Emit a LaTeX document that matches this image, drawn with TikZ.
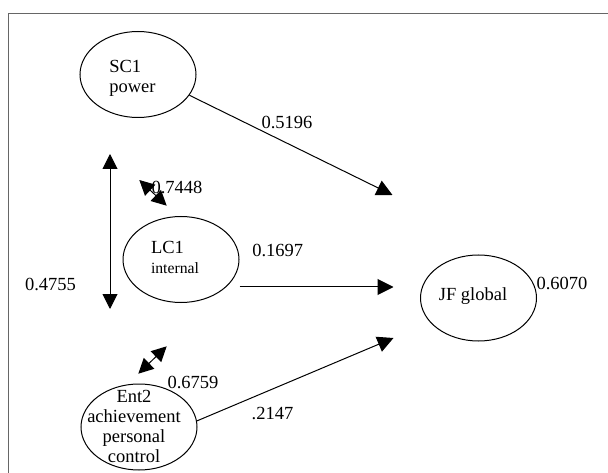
\documentclass[tikz,border=0pt]{standalone}
\usepackage{fontspec}
\setmainfont{Liberation Serif}
\usetikzlibrary{arrows.meta,shapes.geometric}

\begin{document}
\begin{tikzpicture}[
  x=1pt, y=-1pt,
  font=\fontsize{18.5}{20}\selectfont,
  var/.style={ellipse, draw=black, line width=1pt, inner sep=0pt, minimum width=116pt, minimum height=86pt},
  txt/.style={inner sep=0pt},
  coef/.style={inner sep=0pt},
  arr/.style={line width=1pt, -{Triangle[length=16pt,width=16pt]}},
  darr/.style={line width=1pt, {Triangle[length=15pt,width=15pt]}-{Triangle[length=15pt,width=15pt]}}
]
  \useasboundingbox (0,0) rectangle (608,473);
  \clip (0,0) rectangle (608,473);

  % Marco exterior
  \draw[line width=1pt, black!60] (8,13.5) rectangle (640,500);

  % Variables latentes
  \node[var] (SC1) at (138,74.5) {};
  \node[var] (LC1) at (181,259.5) {};
  \node[var] (JF) at (478.5,298) {};
  \node[var] (Ent2) at (139,427) {};

  % Textos de las variables
  \node[txt, align=left] (SC1t) at (132.4,78) {SC1\\power};
  \node[txt, align=left] (LC1t) at (175,257.5) {LC1\\{\fontsize{15.7}{19}\selectfont internal}};
  \node[txt] (JFt) at (473,296.3) {JF global};
  \node[txt, align=center] (Ent2t) at (134,426) {Ent2\\achievement\\personal\\control};

  % Puntas libres de las flechas
  \coordinate (tipA) at (392.5,195);
  \coordinate (tipB) at (393.5,287);
  \coordinate (tipC) at (393.5,338);
  \coordinate (corT) at (110,154);
  \coordinate (corB) at (110,309);
  \coordinate (c1a) at (139.3,180);
  \coordinate (c1b) at (166.7,205.7);
  \coordinate (c2a) at (138.3,373.7);
  \coordinate (c2b) at (166.7,346.3);

  % Efectos sobre JF
  \draw[arr] (SC1.-22) -- (tipA);
  \draw[arr] (LC1.east |- tipB) -- (tipB);
  \draw[arr] (Ent2.6) -- (tipC);

  % Correlaciones
  \draw[darr] (corT) -- (corB);
  \draw[darr] (c1a) -- (c1b);
  \draw[darr] (c2a) -- (c2b);

  % Coeficientes
  \node[coef] (k1) at (287,122) {0.5196};
  \node[coef] (k2) at (177,187.3) {0.7448};
  \node[coef] (k3) at (277.7,250.3) {0.1697};
  \node[coef] (k4) at (50.5,284.3) {0.4755};
  \node[coef] (k5) at (193,382) {0.6759};
  \node[coef] (k6) at (272.5,413.7) {.2147};
  \node[coef] (k7) at (562,283.7) {0.6070};
\end{tikzpicture}
\end{document}
